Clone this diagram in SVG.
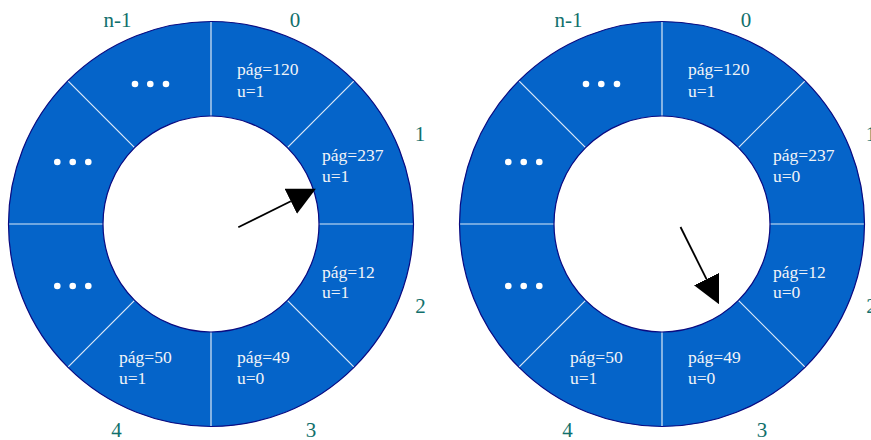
<svg xmlns="http://www.w3.org/2000/svg" width="871" height="440" viewBox="0 0 871 440">
<style>
.sec{fill:#0564c9;stroke:none}
.rim{fill:none;stroke:#0a0a80;stroke-width:1.2}
.sep{stroke:#dce9f7;stroke-width:1.2}
.t{font-family:"Liberation Serif","Times New Roman",serif;font-size:17.5px;fill:#f2f4f8}
.lb{font-family:"Liberation Serif","Times New Roman",serif;font-size:21px;fill:#11706c;text-anchor:middle}
.dot{fill:#ffffff}
.arr{stroke:#000;stroke-width:1.8;fill:none}
</style>
<defs>
<marker id="ah" markerUnits="userSpaceOnUse" markerWidth="28" markerHeight="28" viewBox="0 0 27 27" refX="0" refY="13.5" orient="auto">
<path d="M0,0 L27,13.5 L0,27 Z" fill="#000"/>
</marker>
<path id="s0" d="M0,-202.5 A202.5,202.5 0 0 1 143.19,-143.19 L76.37,-76.37 A108,108 0 0 0 0,-108 Z"/>
<path id="s1" d="M143.19,-143.19 A202.5,202.5 0 0 1 202.5,0 L108,0 A108,108 0 0 0 76.37,-76.37 Z"/>
<path id="s2" d="M202.5,0 A202.5,202.5 0 0 1 143.19,143.19 L76.37,76.37 A108,108 0 0 0 108,0 Z"/>
<path id="s3" d="M143.19,143.19 A202.5,202.5 0 0 1 0,202.5 L0,108 A108,108 0 0 0 76.37,76.37 Z"/>
<path id="s4" d="M0,202.5 A202.5,202.5 0 0 1 -143.19,143.19 L-76.37,76.37 A108,108 0 0 0 0,108 Z"/>
<path id="s5" d="M-143.19,143.19 A202.5,202.5 0 0 1 -202.5,0 L-108,0 A108,108 0 0 0 -76.37,76.37 Z"/>
<path id="s6" d="M-202.5,0 A202.5,202.5 0 0 1 -143.19,-143.19 L-76.37,-76.37 A108,108 0 0 0 -108,0 Z"/>
<path id="s7" d="M-143.19,-143.19 A202.5,202.5 0 0 1 0,-202.5 L0,-108 A108,108 0 0 0 -76.37,-76.37 Z"/>
<g id="seps">
<line class="sep" x1="0" y1="-202" x2="0" y2="-108"/>
<line class="sep" x1="142.8" y1="-142.8" x2="76.4" y2="-76.4"/>
<line class="sep" x1="202" y1="0" x2="108" y2="0"/>
<line class="sep" x1="142.8" y1="142.8" x2="76.4" y2="76.4"/>
<line class="sep" x1="0" y1="202" x2="0" y2="108"/>
<line class="sep" x1="-142.8" y1="142.8" x2="-76.4" y2="76.4"/>
<line class="sep" x1="-202" y1="0" x2="-108" y2="0"/>
<line class="sep" x1="-142.8" y1="-142.8" x2="-76.4" y2="-76.4"/>
</g>
<g id="rims">
<circle class="rim" cx="0" cy="0" r="202.5"/>
<circle class="rim" cx="0" cy="0" r="108"/>
</g>
<g id="labels">
<text class="lb" x="-93.5" y="-197.5">n-1</text>
<text class="lb" x="84" y="-197.5">0</text>
<text class="lb" x="209" y="-83">1</text>
<text class="lb" x="209.5" y="89">2</text>
<text class="lb" x="100" y="212.5">3</text>
<text class="lb" x="-94.5" y="212.5">4</text>
</g>
</defs>

<g id="clockA" transform="translate(211,224)">
<g id="a-slot0"><use href="#s0" class="sec"/><text class="t" x="26" y="-149">pág=120</text><text class="t" x="26" y="-127.5">u=1</text></g>
<g id="a-slot1"><use href="#s1" class="sec"/><text class="t" x="111" y="-63">pág=237</text><text class="t" x="111" y="-42.5">u=1</text></g>
<g id="a-slot2"><use href="#s2" class="sec"/><text class="t" x="111" y="53.5">pág=12</text><text class="t" x="111" y="74">u=1</text></g>
<g id="a-slot3"><use href="#s3" class="sec"/><text class="t" x="26" y="139">pág=49</text><text class="t" x="26" y="160">u=0</text></g>
<g id="a-slot4"><use href="#s4" class="sec"/><text class="t" x="-92" y="139">pág=50</text><text class="t" x="-92" y="160">u=1</text></g>
<g id="a-slot5"><use href="#s5" class="sec"/><circle class="dot" cx="-153.7" cy="62" r="3.3"/><circle class="dot" cx="-138.3" cy="62" r="3.3"/><circle class="dot" cx="-122.7" cy="62" r="3.3"/></g>
<g id="a-slot6"><use href="#s6" class="sec"/><circle class="dot" cx="-153.7" cy="-62" r="3.3"/><circle class="dot" cx="-138.3" cy="-62" r="3.3"/><circle class="dot" cx="-122.7" cy="-62" r="3.3"/></g>
<g id="a-slot7"><use href="#s7" class="sec"/><circle class="dot" cx="-76" cy="-140" r="3.3"/><circle class="dot" cx="-60.7" cy="-140" r="3.3"/><circle class="dot" cx="-45" cy="-140" r="3.3"/></g>
<use href="#seps"/>
<use href="#rims"/>
<use href="#labels"/>
</g>

<g id="clockB" transform="translate(662,224)">
<g id="b-slot0"><use href="#s0" class="sec"/><text class="t" x="26" y="-149">pág=120</text><text class="t" x="26" y="-127.5">u=1</text></g>
<g id="b-slot1"><use href="#s1" class="sec"/><text class="t" x="111" y="-63">pág=237</text><text class="t" x="111" y="-42.5">u=0</text></g>
<g id="b-slot2"><use href="#s2" class="sec"/><text class="t" x="111" y="53.5">pág=12</text><text class="t" x="111" y="74">u=0</text></g>
<g id="b-slot3"><use href="#s3" class="sec"/><text class="t" x="26" y="139">pág=49</text><text class="t" x="26" y="160">u=0</text></g>
<g id="b-slot4"><use href="#s4" class="sec"/><text class="t" x="-92" y="139">pág=50</text><text class="t" x="-92" y="160">u=1</text></g>
<g id="b-slot5"><use href="#s5" class="sec"/><circle class="dot" cx="-153.7" cy="62" r="3.3"/><circle class="dot" cx="-138.3" cy="62" r="3.3"/><circle class="dot" cx="-122.7" cy="62" r="3.3"/></g>
<g id="b-slot6"><use href="#s6" class="sec"/><circle class="dot" cx="-153.7" cy="-62" r="3.3"/><circle class="dot" cx="-138.3" cy="-62" r="3.3"/><circle class="dot" cx="-122.7" cy="-62" r="3.3"/></g>
<g id="b-slot7"><use href="#s7" class="sec"/><circle class="dot" cx="-76" cy="-140" r="3.3"/><circle class="dot" cx="-60.7" cy="-140" r="3.3"/><circle class="dot" cx="-45" cy="-140" r="3.3"/></g>
<use href="#seps"/>
<use href="#rims"/>
<use href="#labels"/>
</g>

<g id="connectors">
<line class="arr" x1="238.3" y1="227.3" x2="290.8" y2="201.3" marker-end="url(#ah)"/>
<line class="arr" x1="680.5" y1="227" x2="706.5" y2="279.1" marker-end="url(#ah)"/>
</g>
</svg>
